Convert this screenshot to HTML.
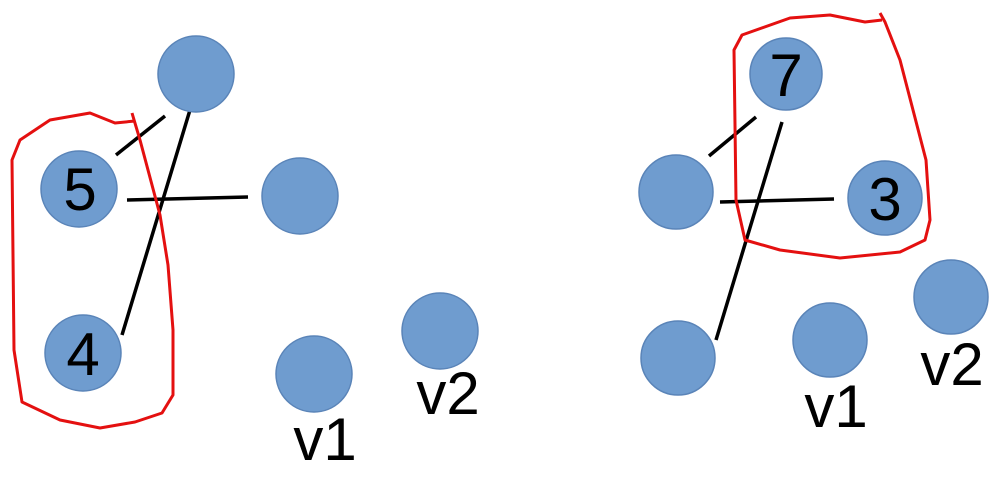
<!DOCTYPE html>
<html><head><meta charset="utf-8"><style>html,body{margin:0;background:#fff}svg{display:block}text{font-family:"Liberation Sans",sans-serif}</style></head>
<body>
<svg width="996" height="486" viewBox="0 0 996 486">
<g stroke="#000" stroke-width="3.5">
<line x1="116" y1="155" x2="165" y2="116"/>
<line x1="193" y1="100" x2="122" y2="335"/>
<line x1="127" y1="200" x2="248" y2="197"/>
<line x1="709" y1="156" x2="756" y2="117"/>
<line x1="782" y1="122" x2="716" y2="340"/>
<line x1="720" y1="202" x2="834" y2="199"/>
</g>
<g fill="#6f9ccf" stroke="#5a84b8" stroke-width="1.5">
<circle cx="196" cy="74" r="38"/>
<circle cx="79" cy="189" r="38"/>
<circle cx="300" cy="196" r="38"/>
<circle cx="83" cy="353" r="38"/>
<circle cx="314" cy="374" r="38"/>
<circle cx="440" cy="331" r="38"/>
<circle cx="786" cy="74" r="36"/>
<circle cx="676" cy="192" r="37"/>
<circle cx="885" cy="198" r="37"/>
<circle cx="678" cy="358" r="37"/>
<circle cx="830" cy="340" r="37"/>
<circle cx="951" cy="297" r="37"/>
</g>
<g font-size="60" fill="#000" text-anchor="middle">
<text x="80" y="210">5</text>
<text x="83" y="375">4</text>
<text x="786" y="96">7</text>
<text x="885" y="220">3</text>
<text x="325" y="460">v1</text>
<text x="448" y="414">v2</text>
<text x="836" y="427">v1</text>
<text x="952" y="385">v2</text>
</g>
<g fill="none" stroke="#e41010" stroke-width="3" stroke-linejoin="round">
<path d="M132,113 L140,140 L152,185 L160,215 L168,265 L173,330 L173,395 L162,413 L135,422 L100,428 L60,420 L22,402 L14,350 L12,160 L20,140 L50,120 L90,113 L115,123 L135,121"/>
<path d="M880,13 L885,22 L900,60 L913,110 L926,160 L930,220 L925,240 L900,252 L840,258 L780,250 L745,240 L736,200 L734,50 L742,35 L790,18 L830,15 L865,22 L882,20"/>
</g>
</svg>
</body></html>
